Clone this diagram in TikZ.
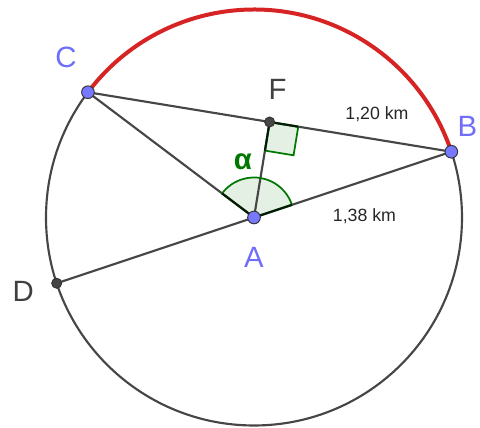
\documentclass[tikz,border=0pt]{standalone}
\usepackage{fontspec}
\setmainfont{Liberation Sans}
\usetikzlibrary{calc}
\definecolor{segcol}{RGB}{70,70,70}
\definecolor{arccol}{RGB}{214,36,36}
\definecolor{ptblue}{RGB}{120,120,255}
\definecolor{lblblue}{RGB}{110,110,250}
\definecolor{angcol}{RGB}{0,120,0}
\definecolor{angfill}{RGB}{228,240,228}
\definecolor{ptdark}{RGB}{70,70,70}
\tikzset{
  seg/.style={draw=segcol, line width=1.6pt},
  circ/.style={draw=segcol, line width=1.6pt},
  redarc/.style={draw=arccol, line width=3pt},
  bluept/.style={circle, fill=ptblue, draw=black!80, line width=0.7pt, inner sep=0pt, minimum size=9.5pt},
  darkpt/.style={circle, fill=ptdark, draw=black!80, line width=0.7pt, inner sep=0pt, minimum size=7.5pt},
  biglbl/.style={anchor=base, font=\fontsize{22}{26}\selectfont, inner sep=0pt},
  kmlbl/.style={anchor=base, font=\fontsize{13.3}{16}\selectfont, inner sep=0pt, text=black!85},
}
\begin{document}
\begin{tikzpicture}[x=0.75pt, y=0.75pt]
\useasboundingbox (0,0) rectangle (480,428);
\coordinate (A) at (254,210.5);
\coordinate (B) at ($(A)+(18.43:156pt)$);
\coordinate (C) at ($(A)+(142.97:156pt)$);
\coordinate (D) at ($(A)+(198.43:156pt)$);
\coordinate (F) at ($(B)!0.5!(C)$);
\coordinate (F1) at ($(F)!21.75pt!(B)$);
\coordinate (F2) at ($(F)!21.75pt!(A)$);
\coordinate (F3) at ($(F1)+(F2)-(F)$);
% circle
\draw[circ] (A) circle[radius=156pt];
\draw[redarc] (C) arc[start angle=142.97, end angle=18.43, radius=156pt];
% fills
\fill[angfill] (A) -- ++(18.43:30pt) arc[start angle=18.43, end angle=142.97, radius=30pt] -- cycle;
\fill[angfill] (F) -- (F1) -- (F3) -- (F2) -- cycle;
% segments
\draw[seg] (C) -- (B);
\draw[seg] (C) -- (A);
\draw[seg] (A) -- (F);
\draw[seg] (B) -- (D);
% angle marks
\draw[draw=angcol, line width=1.3pt] (A) ++(18.43:30pt) arc[start angle=18.43, end angle=142.97, radius=30pt];
\draw[draw=black!75!angcol, line width=1.6pt] (A) -- ++(18.43:30pt);
\draw[draw=black!75!angcol, line width=1.6pt] (A) -- ++(142.97:30pt);
\draw[draw=angcol, line width=1.3pt] (F1) -- (F3) -- (F2);
\draw[draw=black!75!angcol, line width=1.6pt] (F) -- (F1);
\draw[draw=black!75!angcol, line width=1.6pt] (F) -- (F2);
% points
\node[bluept] (pA) at (A) {};
\node[bluept] (pB) at (B) {};
\node[bluept] (pC) at (C) {};
\node[darkpt] (pD) at (D) {};
\node[darkpt] (pF) at (F) {};
% labels
\node[biglbl, text=lblblue] (lC) at (66,360.7) {C};
\node[biglbl, text=lblblue] (lB) at (467.5,291.3) {B};
\node[biglbl, text=lblblue] (lA) at (254,160.5) {A};
\node[biglbl, text=black!75] (lF) at (277.5,328) {F};
\node[biglbl, text=black!75] (lD) at (23.3,126.3) {D};
\node[biglbl, text=angcol, font=\bfseries\fontsize{22}{26}\selectfont] (lal) at (243,258.7) {α};
\node[kmlbl] (l1) at (377,308) {1,20 km};
\node[kmlbl] (l2) at (364.5,206) {1,38 km};
\end{tikzpicture}
\end{document}
